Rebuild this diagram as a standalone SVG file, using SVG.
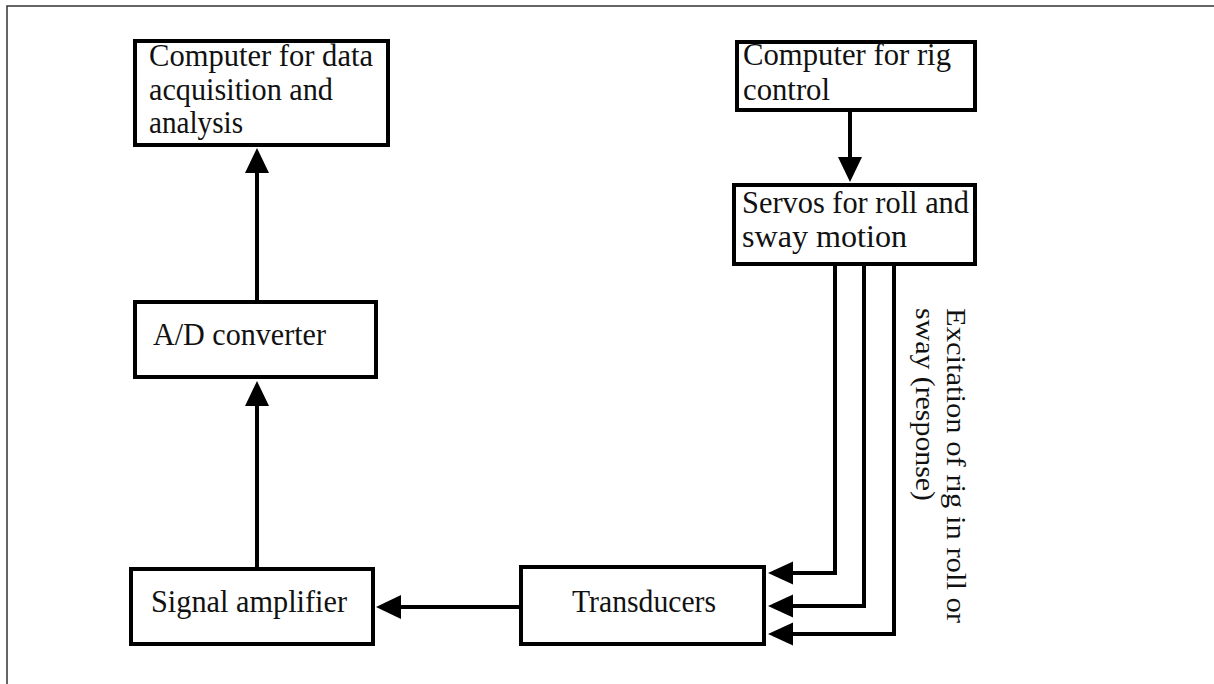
<svg xmlns="http://www.w3.org/2000/svg" width="1214" height="684" viewBox="0 0 1214 684">
<style>
.box{fill:#fff;stroke:#000;stroke-width:4}
.t{font-family:"Liberation Serif","Times New Roman",serif;font-size:32px;fill:#111}
.rt{font-family:"Liberation Serif","Times New Roman",serif;font-size:28px;fill:#111}
.ln{fill:none;stroke:#000;stroke-width:4}
.ah{fill:#000}
.frame{fill:none;stroke:#333;stroke-width:1.5}
</style>
<rect width="1214" height="684" fill="#fff"/>
<path class="frame" d="M7,684 V6 H1214"/>
<g id="connectors">
<line class="ln" x1="257" y1="300" x2="257" y2="170"/>
<polygon class="ah" points="257,148 245,173 269,173"/>
<line class="ln" x1="257" y1="567" x2="257" y2="403"/>
<polygon class="ah" points="257,381 245,406 269,406"/>
<line class="ln" x1="519" y1="607" x2="398" y2="607"/>
<polygon class="ah" points="376,607 401,595 401,619"/>
<line class="ln" x1="850" y1="112" x2="850" y2="160"/>
<polygon class="ah" points="850,182 838,157 862,157"/>
<polyline class="ln" points="835,266 835,573 790,573"/>
<polygon class="ah" points="768,573 793,561.5 793,584.5"/>
<polyline class="ln" points="864,266 864,606 790,606"/>
<polygon class="ah" points="768,606 793,594.5 793,617.5"/>
<polyline class="ln" points="894,266 894,634 790,634"/>
<polygon class="ah" points="768,634 793,622.5 793,645.5"/>
</g>
<g id="node-daq">
<rect class="box" x="135" y="41" width="253" height="104"/>
<text class="t" x="149" y="66" textLength="224" lengthAdjust="spacingAndGlyphs">Computer for data</text>
<text class="t" x="149" y="100" textLength="184" lengthAdjust="spacingAndGlyphs">acquisition and</text>
<text class="t" x="149" y="133" textLength="94" lengthAdjust="spacingAndGlyphs">analysis</text>
</g>
<g id="node-rig">
<rect class="box" x="737" y="42" width="238" height="68"/>
<text class="t" x="743" y="65" textLength="208" lengthAdjust="spacingAndGlyphs">Computer for rig</text>
<text class="t" x="743" y="100" textLength="87" lengthAdjust="spacingAndGlyphs">control</text>
</g>
<g id="node-servos">
<rect class="box" x="734" y="185" width="241" height="79"/>
<text class="t" x="742" y="213" textLength="227" lengthAdjust="spacingAndGlyphs">Servos for roll and</text>
<text class="t" x="742" y="247" textLength="165" lengthAdjust="spacingAndGlyphs">sway motion</text>
</g>
<g id="node-ad">
<rect class="box" x="135" y="302" width="241" height="75"/>
<text class="t" x="153" y="345" textLength="173" lengthAdjust="spacingAndGlyphs">A/D converter</text>
</g>
<g id="node-amp">
<rect class="box" x="131" y="569" width="242" height="75"/>
<text class="t" x="151" y="612" textLength="196" lengthAdjust="spacingAndGlyphs">Signal amplifier</text>
</g>
<g id="node-trans">
<rect class="box" x="521" y="567" width="243" height="77"/>
<text class="t" x="572" y="612" textLength="144" lengthAdjust="spacingAndGlyphs">Transducers</text>
</g>
<g id="label-excitation" transform="translate(947,308) rotate(90)">
<text class="rt" x="0" y="0" textLength="315" lengthAdjust="spacingAndGlyphs">Excitation of rig in roll or</text>
<text class="rt" x="0" y="31" textLength="193" lengthAdjust="spacingAndGlyphs">sway (response)</text>
</g>
</svg>
